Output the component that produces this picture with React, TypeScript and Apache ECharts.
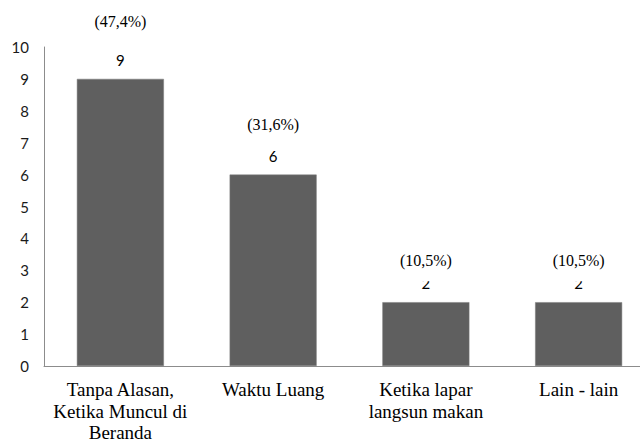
import React, { useEffect, useRef } from "react";
import * as echarts from "echarts";

const categories = [
  "Tanpa Alasan,\nKetika Muncul di\nBeranda",
  "Waktu Luang",
  "Ketika lapar\nlangsun makan",
  "Lain - lain",
];
const values = [9, 6, 2, 2];
const percents = ["(47,4%)", "(31,6%)", "(10,5%)", "(10,5%)"];
const yTicks = [0, 1, 2, 3, 4, 5, 6, 7, 8, 9, 10];

// extra vertical lift of each percentage label (style only)
const percentLift = [-15, -8, 0, 0];

const SERIF_A = "Times New Roman";
const SERIF_B = "serif";

export default function App() {
  const ref = useRef<HTMLDivElement>(null);
  useEffect(() => {
    if (!ref.current) return;
    const chart = echarts.init(ref.current, null, { renderer: "svg" });
    chart.setOption({
      animation: false,
      backgroundColor: "#ffffff",
      grid: {
        left: 44,
        width: 611,
        top: 47,
        bottom: 78,
        containLabel: false,
        outerBoundsMode: "none",
      },
      xAxis: {
        type: "category",
        data: categories,
        axisLine: { show: true, lineStyle: { color: "#8c8c8c", width: 1 } },
        axisTick: { show: false },
        axisLabel: {
          interval: 0,
          margin: 13,
          color: "#000",
          fontFamily: SERIF_A,
          fontSize: 19,
          lineHeight: 21.5,
        },
      },
      yAxis: {
        type: "value",
        min: yTicks[0],
        max: yTicks[yTicks.length - 1],
        interval: 1,
        axisLine: { show: true, lineStyle: { color: "#8c8c8c", width: 1 } },
        axisTick: { show: false },
        splitLine: { show: false },
        axisLabel: {
          margin: 15,
          color: "#1a1a1a",
          fontFamily: "Lato",
          fontSize: 15,
        },
      },
      series: [
        {
          type: "bar",
          data: values,
          barWidth: 87,
          itemStyle: { color: "#5f5f5f", borderColor: "#7a7a7a", borderWidth: 0.5 },
          label: {
            show: true,
            position: "top",
            distance: 11,
            color: "#000",
            fontFamily: "Lato",
            fontSize: 15,
            lineHeight: 16,
          },
          z: 2,
        },
        {
          type: "bar",
          data: values.map((v, i) => ({
            value: v,
            label: { offset: [0, percentLift[i]] },
          })),
          barWidth: 87,
          barGap: "-100%",
          itemStyle: { color: "rgba(0,0,0,0)" },
          silent: true,
          label: {
            show: true,
            position: "top",
            distance: 21,
            formatter: (p: any) => percents[p.dataIndex],
            color: "#000",
            fontFamily: SERIF_B,
            fontSize: 16,
            lineHeight: 16,
            backgroundColor: "#ffffff",
            padding: [2, 4, 13, 4],
          },
          z: 3,
        },
      ],
    });
    return () => chart.dispose();
  }, []);
  return <div ref={ref} style={{ width: 640, height: 444, position: "absolute", left: 0, top: 0 }} />;
}
